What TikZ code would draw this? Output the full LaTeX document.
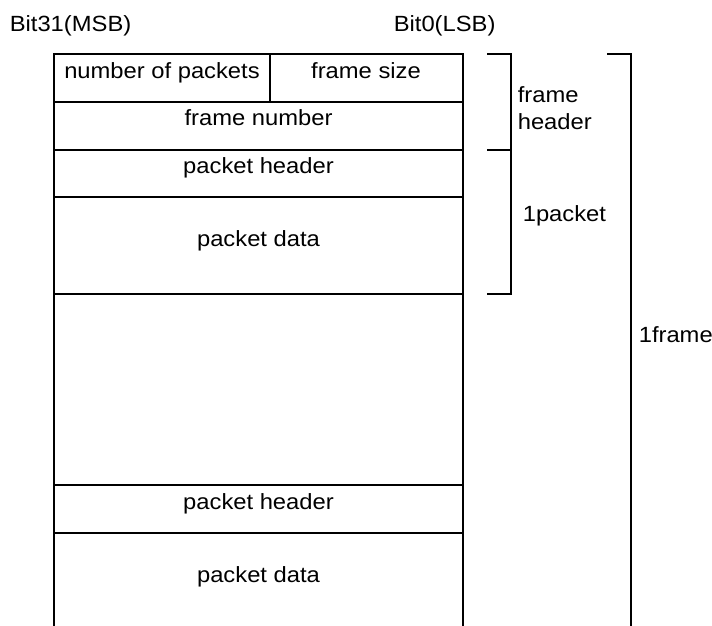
\documentclass[tikz,border=0pt]{standalone}
\usepackage{fontspec}
\setmainfont[FakeStretch=1.08]{Liberation Sans}
\begin{document}
\begin{tikzpicture}[x=1pt,y=-1pt,line width=1.6pt,
  lbl/.style={inner sep=0pt,anchor=base,font=\fontsize{22}{26}\selectfont},
  lblw/.style={lbl,anchor=base west}]
\useasboundingbox (0,0) rectangle (712,626);
% layout box
\draw (54,626) -- (54,54) -- (463,54) -- (463,626);
\draw (270,54) -- (270,102);
\foreach \yy in {102,150,197,294,485,533}
  \draw (54,\yy) -- (463,\yy);
% brackets
\draw (487,54) -- (511,54) -- (511,294) -- (487,294);
\draw (487,150) -- (511,150);
\draw (607,54) -- (631,54) -- (631,626);
% labels
\node[lblw] (msb) at (9,32) {Bit31(MSB)};
\node[lblw] (lsb) at (393,32) {Bit0(LSB)};
\node[lbl] (nop) at (162,78) {number of packets};
\node[lbl] (fsz) at (366,78) {frame size};
\node[lbl] (fnum) at (258.5,125) {frame number};
\node[lbl] (ph1) at (258.5,173) {packet header};
\node[lbl] (pd1) at (258.5,246) {packet data};
\node[lbl] (ph2) at (258.5,509) {packet header};
\node[lbl] (pd2) at (258.5,582) {packet data};
\node[lblw] (fh1) at (517,102) {frame};
\node[lblw] (fh2) at (517,129) {header};
\node[lblw] (pkt) at (522,221) {1packet};
\node[lblw] (frm) at (638,342) {1frame};
\end{tikzpicture}
\end{document}
